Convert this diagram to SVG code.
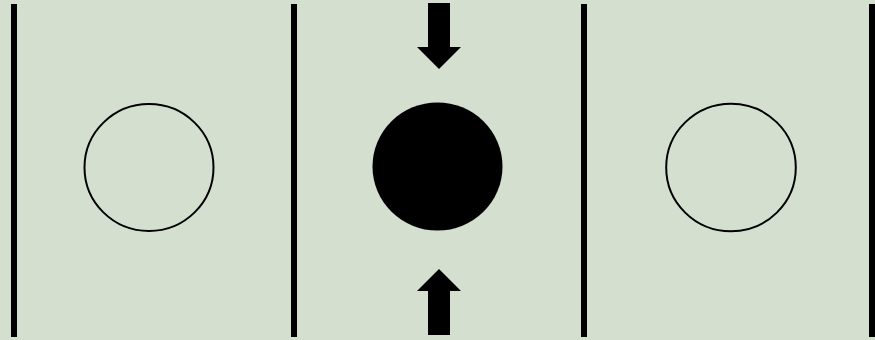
<svg xmlns="http://www.w3.org/2000/svg" width="875" height="340" viewBox="0 0 875 340">
<style>
.wall{fill:#000}
.ring{fill:none;stroke:#000;stroke-width:2}
.solid{fill:#000}
.arrow{fill:#000}
</style>
<rect x="0" y="0" width="875" height="340" fill="#d5dfd0"/>
<g id="walls">
<rect class="wall" x="11" y="4" width="6" height="333"/>
<rect class="wall" x="291" y="4" width="6" height="333"/>
<rect class="wall" x="581" y="4" width="6" height="333"/>
<rect class="wall" x="869" y="4" width="6" height="333"/>
</g>
<g id="left-circle">
<ellipse class="ring" cx="149" cy="167.5" rx="64.5" ry="63.5"/>
</g>
<g id="middle-circle">
<ellipse class="solid" cx="437.5" cy="166.5" rx="65" ry="64"/>
</g>
<g id="right-circle">
<ellipse class="ring" cx="731" cy="167.5" rx="64.8" ry="63.8"/>
</g>
<g id="connectors">
<polygon class="arrow" points="428,3 450,3 450,47 461,47 439,69 417,47 428,47"/>
<polygon class="arrow" points="439,269 461,291 450,291 450,335 428,335 428,291 417,291"/>
</g>
</svg>
